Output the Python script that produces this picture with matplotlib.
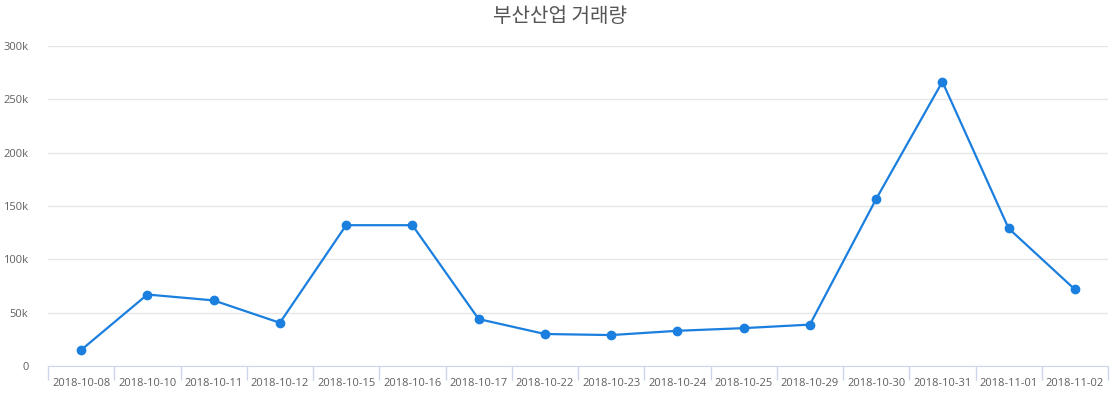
import numpy as np
import matplotlib.pyplot as plt
from matplotlib.ticker import FuncFormatter

# Trading volume by date
dates = ['2018-10-08', '2018-10-10', '2018-10-11', '2018-10-12', '2018-10-15',
         '2018-10-16', '2018-10-17', '2018-10-22', '2018-10-23', '2018-10-24',
         '2018-10-25', '2018-10-29', '2018-10-30', '2018-10-31', '2018-11-01',
         '2018-11-02']
volume = [15000, 67000, 61500, 40500, 132000, 132000, 44000, 30000, 29000, 33000,
          35500, 38800, 156500, 266500, 129000, 71800]

plt.rcParams['font.family'] = ['Open Sans', 'Noto Sans CJK KR', 'DejaVu Sans']

fig = plt.figure(figsize=(11.2, 4), dpi=100)
ax = fig.add_axes([48 / 1120, 1 - 366 / 400, 1060 / 1120, 320 / 400])

x = np.arange(len(dates))
ax.plot(x, volume, color='#1a7fde', linewidth=1.6, marker='o', markersize=6,
        zorder=3)

ax.set_xlim(-0.5, len(dates) - 0.5)
ax.set_ylim(0, 300000)
ax.set_yticks(np.arange(0, 300001, 50000))
ax.yaxis.set_major_formatter(FuncFormatter(lambda v, p: '0' if v == 0 else f'{int(v / 1000)}k'))
ax.set_xticks(x)
ax.set_xticklabels(dates)
ax.set_xticks(np.arange(-0.5, len(dates)), minor=True)

ax.grid(axis='y', color='#e6e6e6', linewidth=1)
ax.set_axisbelow(True)
for s in ['top', 'right', 'left']:
    ax.spines[s].set_visible(False)
ax.spines['bottom'].set_color('#ccd6eb')

ax.tick_params(axis='x', which='major', length=0, pad=9, labelsize=8, labelcolor='#606060')
ax.tick_params(axis='x', which='minor', length=10, color='#ccd6eb', width=1)
ax.tick_params(axis='y', length=0, pad=14, labelsize=8, labelcolor='#606060')

fig.text(0.5, 1 - 17 / 400, '부산산업 거래량', ha='center', va='center',
         fontsize=14.5, color='#555555', family=['Noto Sans CJK KR', 'DejaVu Sans'])

fig.savefig('out.png', dpi=100, facecolor='white')
